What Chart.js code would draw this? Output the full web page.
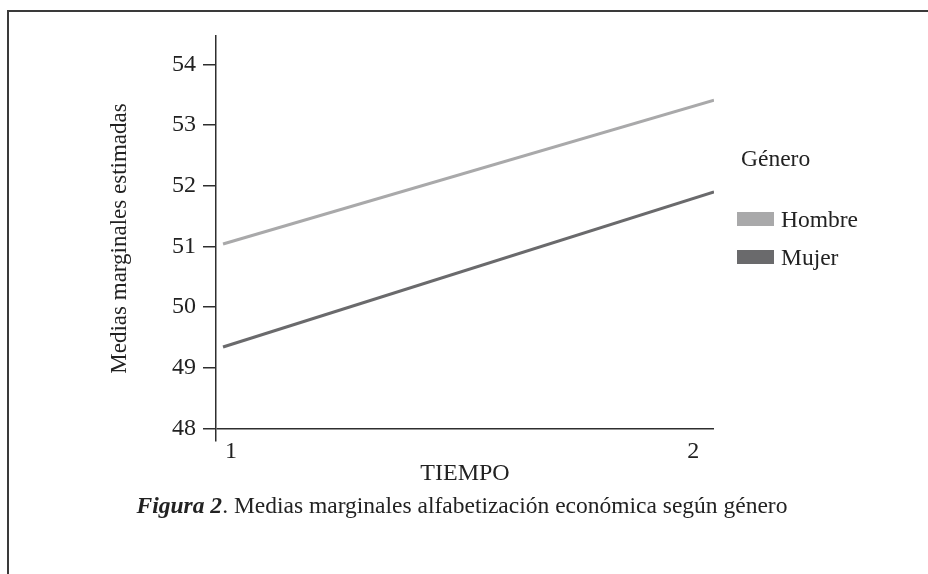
<!DOCTYPE html>
<html>
<head>
<meta charset="utf-8">
<script src="https://cdn.jsdelivr.net/npm/chart.js@4.4.0/dist/chart.umd.min.js"></script>
<style>
  html, body { margin: 0; padding: 0; background: #fff; }
  body { width: 928px; height: 574px; position: relative; overflow: hidden; font-family: "Liberation Serif", serif; color: #222; }
  .frame { position: absolute; left: 7px; top: 10px; width: 1000px; height: 700px; border: 2px solid #3a3a3a; }
  #wrap { position: absolute; left: 0; top: 0; width: 928px; height: 574px; }
  #legend { position: absolute; left: 737px; top: 144px; font-size: 23.5px; }
  #legend .ttl { margin-left: 4px; height: 28px; line-height: 28px; margin-bottom: 33px; }
  #legend .item { display: flex; align-items: center; height: 28px; margin-bottom: 10px; }
  #legend .sw { width: 37px; height: 14px; margin-right: 7px; }
  #caption { position: absolute; left: 0; width: 924px; top: 491px; text-align: center; font-size: 23.5px; line-height: 28px; }
</style>
</head>
<body>
<div class="frame"></div>
<div id="wrap"><canvas id="chart" width="928" height="574"></canvas></div>
<div id="legend"></div>
<div id="caption"><b><i>Figura 2</i></b>. Medias marginales alfabetización económica según género</div>
<script>
// datos
const tiempo = [1, 2];
const hombre = [51.04, 53.41];
const mujer  = [49.34, 51.90];
const yTicks = [48, 49, 50, 51, 52, 53, 54];
const legendTitle = 'Género';

const axisColor = '#2e2e2e';
const font = { family: '"Liberation Serif", serif', size: 24 };

const chart = new Chart(document.getElementById('chart'), {
  type: 'line',
  data: {
    datasets: [
      { label: 'Hombre', data: tiempo.map((t, i) => ({ x: t, y: hombre[i] })), borderColor: '#a9a9aa', backgroundColor: '#a9a9aa', borderWidth: 3, pointRadius: 0, tension: 0 },
      { label: 'Mujer',  data: tiempo.map((t, i) => ({ x: t, y: mujer[i] })),  borderColor: '#6a6a6c', backgroundColor: '#6a6a6c', borderWidth: 3, pointRadius: 0, tension: 0 }
    ]
  },
  options: {
    responsive: false,
    animation: false,
    layout: { padding: { left: 0, top: 36, right: 214, bottom: 0 } },
    plugins: { legend: { display: false }, tooltip: { enabled: false } },
    scales: {
      // eje de datos (oculto)
      x: { type: 'linear', min: 0.9857, max: 2, display: false },
      // eje con las etiquetas 1 / 2 como en SPSS (algo hacia dentro)
      x2: {
        type: 'linear', position: 'bottom', min: 0.9675, max: 2.045,
        afterBuildTicks: s => { s.ticks = tiempo.map(v => ({ value: v })); },
        afterFit: s => { s.height = 133; },
        grid: { display: false, drawTicks: false },
        border: { display: false },
        ticks: { color: '#222', font, padding: -4 },
        title: { display: true, text: 'TIEMPO', color: '#222', font, padding: { top: 0, bottom: 86 } }
      },
      y: {
        min: 47.79, max: 54.47,
        afterBuildTicks: s => { s.ticks = yTicks.map(v => ({ value: v })); },
        afterFit: s => { s.width = 216; },
        grid: {
          color: c => (c.tick && c.tick.value === 48) ? axisColor : 'rgba(0,0,0,0)',
          tickColor: axisColor, tickLength: 13, lineWidth: 1.5
        },
        border: { display: true, color: axisColor, width: 1.5 },
        ticks: { color: '#222', font, padding: 7 },
        title: { display: true, text: 'Medias marginales estimadas', color: '#222', font: { family: font.family, size: 23 }, padding: { top: 106, bottom: 0 } }
      }
    }
  }
});

// leyenda en HTML a partir de los datasets
const lg = document.getElementById('legend');
lg.innerHTML = '<div class="ttl">' + legendTitle + '</div>' +
  chart.data.datasets.map(d => '<div class="item"><span class="sw" style="background:' + d.borderColor + '"></span>' + d.label + '</div>').join('');
</script>
</body>
</html>
